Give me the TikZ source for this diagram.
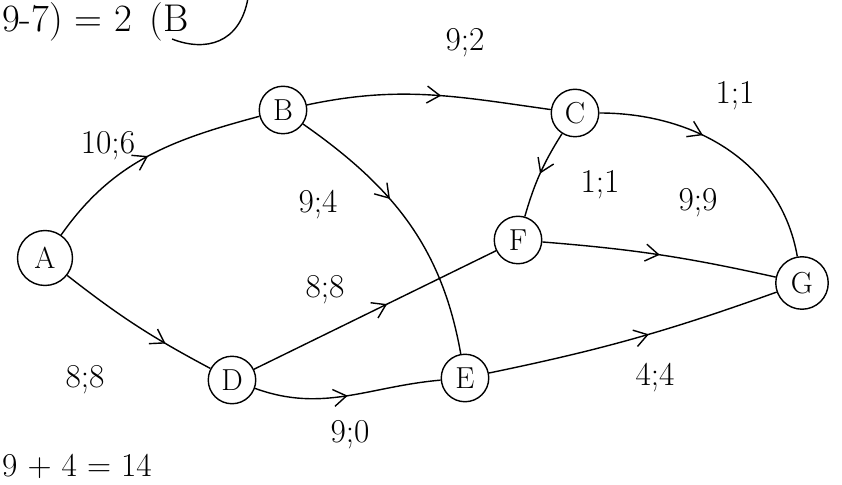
\documentclass[tikz,border=0pt]{standalone}
\usepackage{amsmath}
\usepackage{tikz}
\usetikzlibrary{
	arrows.meta,
	positioning,
	decorations.markings
}
\usepackage{xcolor}

\tikzset{
	vertex/.style={draw, circle, thick, minimum size=0.95cm, inner sep=0pt, font=\LARGE},
	flow/.style={thick, postaction={decorate},
		decoration={markings, mark=at position #1 with {\arrow{Straight Barb[length=2.6mm, width=3.4mm]}}}},
	flow/.default=0.5,
	weight/.style={font=\fontsize{19}{22}\selectfont}
}

\begin{document}
\begin{tikzpicture}[x=0.02cm, y=0.02cm]
		
		\useasboundingbox (0,0) rectangle (842,484);
		
		% vertices
		\node[vertex, minimum height=1.1cm] (A) at (45,226) {A};
		\node[vertex] (B) at (283,374) {B};
		\node[vertex] (C) at (575,371) {C};
		\node[vertex] (F) at (518,244) {F};
		\node[vertex, minimum size=1.05cm] (G) at (802,201) {G};
		\node[vertex] (D) at (232,104) {D};
		\node[vertex] (E) at (465,106) {E};
		
		% edges
		\draw[flow=0.5] (A) to[out=55, in=195] (B);
		\draw[flow=0.7] (A) to[bend right=5] (D);
		\draw[flow=0.55] (B) to[out=12, in=172] (C);
		\draw[flow=0.4] (B) to[out=-35, in=100] (E);
		\draw[flow=0.5] (C) to[bend right=8] (F);
		\draw[flow=0.4] (C) to[out=0, in=100] (G);
		\draw[flow=0.5] (F) to[bend left=4] (G);
		\draw[flow=0.55] (D) to (F);
		\draw[flow=0.5] (D) to[out=-20, in=185] (E);
		\draw[flow=0.55] (E) to[bend right=4] (G);
		
		% capacity ; flow
		\node[weight] (lab) at (108,338) {10;6};
		\node[weight] (lad) at (85,104) {8;8};
		\node[weight] (lbc) at (465,441) {9;2};
		\node[weight] (lbe) at (318,279) {9;4};
		\node[weight] (lcf) at (600,299) {1;1};
		\node[weight] (lcg) at (735,388) {1;1};
		\node[weight] (lfg) at (698,281) {9;9};
		\node[weight] (ldf) at (325,194) {8;8};
		\node[weight] (lde) at (350,49) {9;0};
		\node[weight] (leg) at (655,106) {4;4};
		
		% notes in the corners
		\node[weight, anchor=base west, font=\fontsize{22}{26}\selectfont, inner sep=1pt] (top) at (0,452) {9-7) = 2 \,(B};
		\draw[thick] (248,486) .. controls (240,440) and (205,432) .. (172,445);
		\node[weight, anchor=base west, inner sep=1pt] (sum) at (0,8) {9 + 4 = 14};
		
	\end{tikzpicture}
\end{document}
